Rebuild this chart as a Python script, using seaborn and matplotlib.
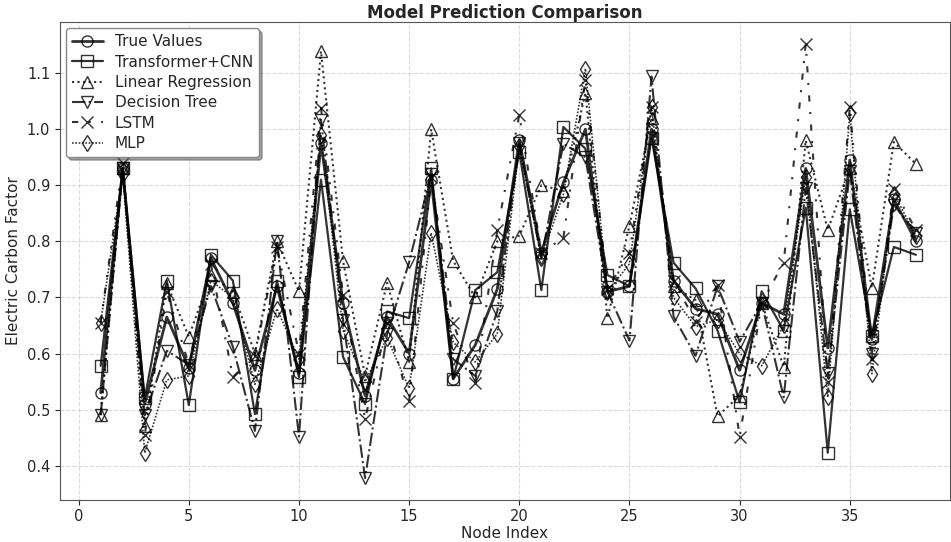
import matplotlib
matplotlib.use("Agg")
import matplotlib.pyplot as plt
import seaborn as sns
import numpy as np

nodes = list(range(1, 39))

true_values = [0.53, 0.93, 0.51, 0.665, 0.575, 0.77, 0.69, 0.57, 0.72, 0.565,
               0.975, 0.69, 0.525, 0.665, 0.60, 0.91, 0.555, 0.615, 0.715, 0.98,
               0.78, 0.905, 1.0, 0.71, 0.72, 1.0, 0.73, 0.68, 0.67, 0.57,
               0.69, 0.67, 0.93, 0.61, 0.945, 0.625, 0.875, 0.80]
transformer_cnn = [0.578, 0.93, 0.52, 0.73, 0.508, 0.776, 0.73, 0.492, 0.73, 0.558,
                   0.91, 0.594, 0.51, 0.675, 0.663, 0.93, 0.555, 0.713, 0.745, 0.96,
                   0.713, 1.004, 0.965, 0.74, 0.72, 0.985, 0.762, 0.716, 0.641, 0.513,
                   0.711, 0.641, 0.86, 0.423, 0.857, 0.632, 0.79, 0.776]
linear_regression = [0.49, 0.93, 0.47, 0.725, 0.63, 0.74, 0.71, 0.60, 0.80, 0.711,
                     1.139, 0.765, 0.56, 0.726, 0.585, 1.0, 0.765, 0.70, 0.80, 0.81,
                     0.90, 0.89, 1.065, 0.663, 0.828, 1.02, 0.72, 0.695, 0.488, 0.525,
                     0.69, 0.576, 0.98, 0.82, 0.93, 0.717, 0.977, 0.938]
decision_tree = [0.49, 0.93, 0.49, 0.605, 0.58, 0.72, 0.612, 0.462, 0.80, 0.452,
                 1.017, 0.66, 0.378, 0.635, 0.763, 0.92, 0.59, 0.56, 0.675, 0.975,
                 0.77, 0.974, 0.95, 0.71, 0.623, 1.094, 0.666, 0.596, 0.72, 0.621,
                 0.69, 0.522, 0.895, 0.565, 0.925, 0.60, 0.865, 0.815]
lstm = [0.655, 0.94, 0.455, 0.71, 0.58, 0.76, 0.558, 0.596, 0.79, 0.60,
        1.038, 0.704, 0.483, 0.655, 0.515, 0.915, 0.654, 0.548, 0.82, 1.026,
        0.78, 0.806, 1.088, 0.715, 0.78, 1.04, 0.73, 0.657, 0.722, 0.452,
        0.69, 0.762, 1.152, 0.549, 1.04, 0.59, 0.893, 0.82]
mlp = [0.655, 0.92, 0.423, 0.553, 0.56, 0.73, 0.70, 0.545, 0.68, 0.59,
       0.99, 0.641, 0.55, 0.628, 0.538, 0.815, 0.62, 0.585, 0.635, 0.97,
       0.77, 0.884, 1.108, 0.71, 0.76, 1.04, 0.70, 0.648, 0.66, 0.60,
       0.578, 0.65, 0.915, 0.522, 1.028, 0.564, 0.885, 0.81]

series_names = ["True Values", "Transformer+CNN", "Linear Regression",
                "Decision Tree", "LSTM", "MLP"]
series_values = [true_values, transformer_cnn, linear_regression,
                 decision_tree, lstm, mlp]

styles = [
    dict(linestyle="-", marker="o", lw=2.0),
    dict(linestyle="-", marker="s", lw=1.6),
    dict(linestyle=":", marker="^", lw=1.5),
    dict(linestyle="-.", marker="v", lw=1.5),
    dict(linestyle=(0, (3, 5, 1, 5)), marker="x", lw=1.5),
    dict(linestyle=(0, (1, 1)), marker="d", lw=1.2),
]

sns.set_style("ticks")
plt.rcParams['font.family'] = ['DejaVu Sans']

fig = plt.figure(figsize=(9.51, 5.42), dpi=100)
ax = fig.add_axes([0.063, 0.078, 0.936, 0.881])

for name, vals, st in zip(series_names, series_values, styles):
    sns.lineplot(x=nodes, y=vals, ax=ax, color="black", label=name,
                 linestyle=st["linestyle"], linewidth=st["lw"],
                 marker=st["marker"], markersize=8,
                 markerfacecolor="none", markeredgecolor="black",
                 markeredgewidth=1.0, alpha=0.8)

ax.set_xlim(-0.85, 39.55)
ax.set_xticks([0, 5, 10, 15, 20, 25, 30, 35])
ax.set_yticks([0.4, 0.5, 0.6, 0.7, 0.8, 0.9, 1.0, 1.1])
ax.grid(True, linestyle="--", color="#cccccc", linewidth=0.8, alpha=0.7)
for sp in ax.spines.values():
    sp.set_visible(True)
    sp.set_color("#555555")
ax.tick_params(labelsize=10.5)
ax.set_xlabel("Node Index", fontsize=11, labelpad=1)
ax.set_ylabel("Electric Carbon Factor", fontsize=11)
ax.set_title("Model Prediction Comparison", fontsize=12, fontweight="bold", pad=3)
ax.legend(loc="upper left", fontsize=11, shadow=True, frameon=True,
          edgecolor="#888888", borderaxespad=0.4, handlelength=2.0,
          labelspacing=0.35)

fig.savefig("out.png", dpi=100)
